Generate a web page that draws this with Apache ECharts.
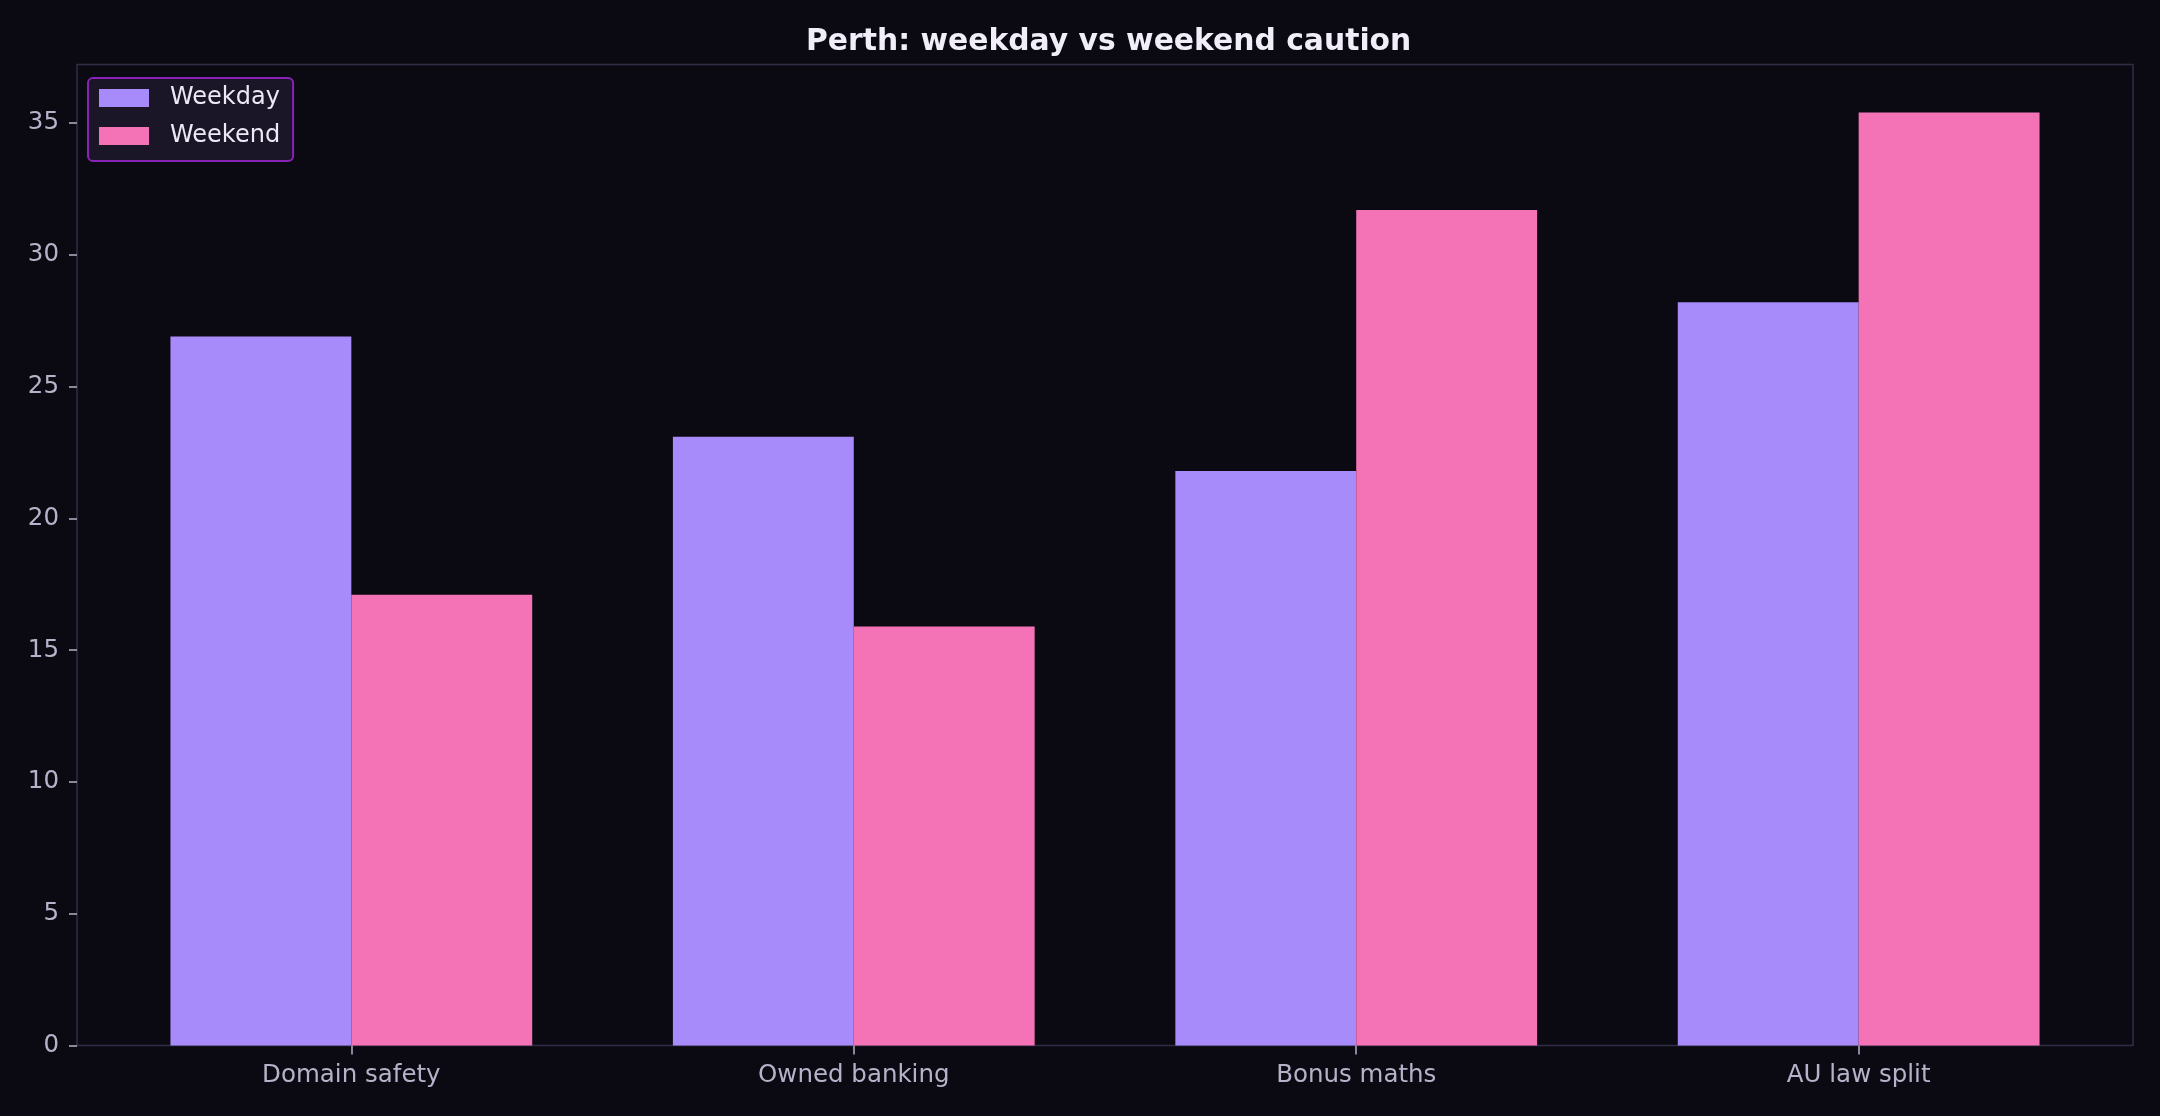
<!DOCTYPE html>
<html>
<head>
<meta charset="utf-8">
<script src="https://cdn.jsdelivr.net/npm/echarts@6/dist/echarts.min.js"></script>
<style>
    html, body { margin: 0; padding: 0; background: #0b0a12; }
    #chart { width: 2160px; height: 1116px; }
</style>
</head>
<body>
<div id="chart"></div>
<script>
    const categories = ['Domain safety', 'Owned banking', 'Bonus maths', 'AU law split'];
    const weekdayValues = [26.9, 23.1, 21.8, 28.2];
    const weekendValues = [17.1, 15.9, 31.7, 35.4];
    const yTicks = [0, 5, 10, 15, 20, 25, 30, 35];

    const FONT = 'DejaVu Sans';
    const TICK_COLOR = '#b7b2c9';
    const FRAME_COLOR = '#322d47';

    function toPoints(values) {
        return values.map((v, i) => [i, v]);
    }

    const chart = echarts.init(document.getElementById('chart'));
    const catIndex = categories.map((_, i) => i);

    chart.setOption({
        backgroundColor: '#0b0a12',
        animation: false,
        title: {
            text: 'Perth: weekday vs weekend caution',
            left: 801,
            top: 22,
            textStyle: { color: '#f1eef9', fontFamily: FONT, fontSize: 29.8, fontWeight: 'bold' },
        },
        legend: {
            orient: 'vertical',
            left: 88,
            top: 78,
            icon: 'rect',
            itemWidth: 50,
            itemHeight: 18,
            itemGap: 14,
            padding: [8, 13, 13, 11],
            backgroundColor: '#1a1527',
            borderColor: '#8b22b8',
            borderWidth: 2,
            borderRadius: 5,
            textStyle: { color: '#ece8f5', fontFamily: FONT, fontSize: 24, padding: [0, 0, 0, 16] },
            data: ['Weekday', 'Weekend'],
        },
        grid: {
            left: 77,
            right: 27,
            top: 64.5,
            bottom: 70.5,
            show: true,
            borderColor: FRAME_COLOR,
            borderWidth: 1.5,
            backgroundColor: 'transparent',
        },
        xAxis: {
            type: 'value',
            min: -0.546,
            max: 3.546,
            axisLine: { show: false, onZero: false },
            splitLine: { show: false },
            axisTick: {
                show: true,
                customValues: catIndex,
                length: 9,
                lineStyle: { color: TICK_COLOR, width: 1.5 },
            },
            axisLabel: {
                customValues: catIndex,
                formatter: (v) => categories[Math.round(v)] || '',
                color: TICK_COLOR,
                fontFamily: FONT,
                fontSize: 24.5,
                margin: 18,
            },
        },
        yAxis: {
            type: 'value',
            min: 0,
            max: 37.22,
            axisLine: { show: false, onZero: false },
            splitLine: { show: false },
            axisTick: {
                show: true,
                customValues: yTicks,
                length: 8,
                lineStyle: { color: TICK_COLOR, width: 1.5 },
            },
            axisLabel: {
                customValues: yTicks,
                color: TICK_COLOR,
                fontFamily: FONT,
                fontSize: 24.5,
                margin: 18,
            },
        },
        series: [
            {
                name: 'Weekday',
                type: 'bar',
                barWidth: '36%',
                barGap: '0%',
                itemStyle: { color: '#a78bfa' },
                data: toPoints(weekdayValues),
            },
            {
                name: 'Weekend',
                type: 'bar',
                barWidth: '36%',
                barGap: '0%',
                itemStyle: { color: '#f472b6' },
                data: toPoints(weekendValues),
            },
        ],
    });
</script>
</body>
</html>
